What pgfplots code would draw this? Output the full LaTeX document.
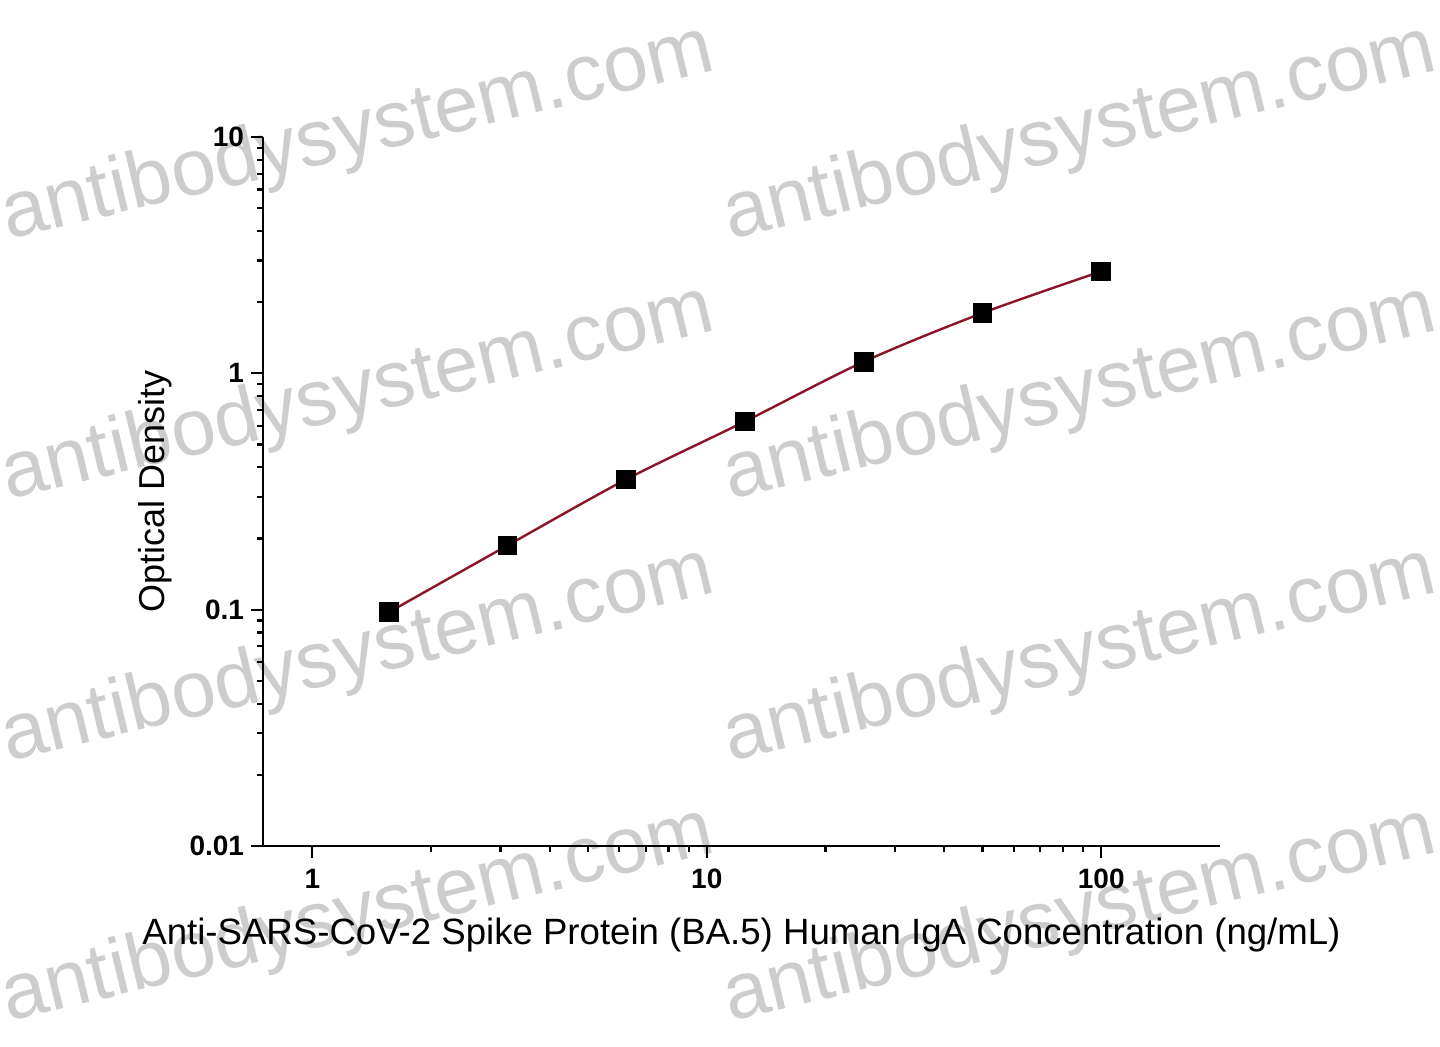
\documentclass[border=0pt]{standalone}
\usepackage{pgfplots}
\pgfplotsset{compat=1.18}
\usepackage{fontspec}
\setmainfont{Liberation Sans}
\definecolor{curvered}{RGB}{140,20,40}
\definecolor{wmgray}{RGB}{205,205,205}
\begin{document}
\begin{tikzpicture}
\useasboundingbox (-131.5pt,-100pt) rectangle (588.5pt,423pt);
\clip (-131.5pt,-100pt) rectangle (588.5pt,423pt);
% watermarks
\foreach \wx in {-127.5,233.5}{
  \foreach \wy in {303,173,42,-88}{
    \node[anchor=base west, rotate=13.5, text=wmgray, font=\fontsize{40}{44}\selectfont, inner sep=0pt] at (\wx pt,\wy pt) {antibodysystem.com};
  }
}
\begin{axis}[
  at={(0pt,0pt)}, anchor=south west,
  scale only axis, width=478.5pt, height=354.5pt,
  xmode=log, ymode=log,
  xmin=0.75, xmax=200, ymin=0.01, ymax=10,
  axis lines*=left,
  axis line style={line width=1.3pt},
  tick style={line width=1.1pt, black},
  tick align=outside,
  major tick length=6pt, minor tick length=3pt,
  xtick={1,10,100}, xticklabels={1,10,100},
  ytick={0.01,0.1,1,10}, yticklabels={0.01,0.1,1,10},
  ticklabel style={font=\fontsize{14}{16}\selectfont\bfseries},
  xticklabel style={yshift=-2pt},
  xlabel={Anti-SARS-CoV-2 Spike Protein (BA.5) Human IgA Concentration (ng/mL)},
  ylabel={Optical Density},
  every axis x label/.style={at={(axis description cs:0.5,-0.1255)}, anchor=center, font=\fontsize{18.3}{21}\selectfont},
  every axis y label/.style={at={(axis description cs:-0.1129,0.5)}, anchor=center, rotate=90, font=\fontsize{18}{21}\selectfont},
  clip=false,
]
\addplot[curvered, line width=1.2pt, smooth, mark=square*, mark size=4.3pt,
  mark options={fill=black, draw=black, solid}] coordinates {
  (1.5625,0.0975) (3.125,0.187) (6.25,0.356) (12.5,0.626) (25,1.12) (50,1.80) (100,2.70)
};
\end{axis}
\end{tikzpicture}
\end{document}
